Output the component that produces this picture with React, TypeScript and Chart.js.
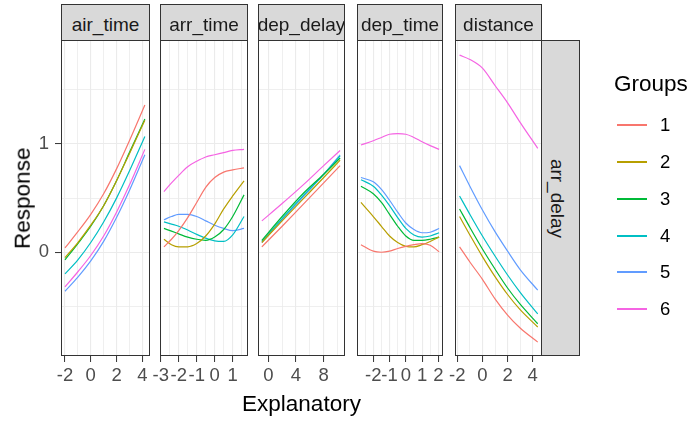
import { useEffect, useRef } from "react";
import { Chart, registerables } from "chart.js";

Chart.register(...registerables);

// ---------------------------------------------------------------- data ----

const groupLabels = ["1", "2", "3", "4", "5", "6"];
const groupColors = ["#F8766D", "#B79F00", "#00BA38", "#00BFC4", "#619CFF", "#F564E3"];

const explanatoryNames = ["air_time", "arr_time", "dep_delay", "dep_time", "distance"];
const responseName = "arr_delay";
const xTitle = "Explanatory";
const yTitle = "Response";
const legendTitle = "Groups";

// air_time
const airTimeX = [-2, -1, 0, 1, 2, 3, 4.2];
const airTimeY = [
  [0.04, 0.19, 0.35, 0.54, 0.77, 1.03, 1.36],
  [-0.05, 0.09, 0.25, 0.43, 0.66, 0.91, 1.22],
  [-0.07, 0.08, 0.24, 0.43, 0.66, 0.92, 1.23],
  [-0.2, -0.07, 0.09, 0.28, 0.5, 0.75, 1.07],
  [-0.36, -0.23, -0.08, 0.1, 0.32, 0.57, 0.9],
  [-0.32, -0.18, -0.03, 0.15, 0.37, 0.62, 0.95],
];
const airTimeTicks = [-2, -1, 0, 1, 2, 3, 4];
const airTimeLabels = [-2, 0, 2, 4];

// arr_time
const arrTimeX = [-2.82, -2.4, -2, -1.5, -1, -0.5, 0, 0.5, 1, 1.63];
const arrTimeY = [
  [0.05, 0.12, 0.2, 0.32, 0.46, 0.6, 0.69, 0.74, 0.76, 0.78],
  [0.12, 0.07, 0.05, 0.05, 0.08, 0.15, 0.26, 0.4, 0.52, 0.66],
  [0.22, 0.195, 0.17, 0.14, 0.12, 0.11, 0.14, 0.21, 0.33, 0.53],
  [0.28, 0.26, 0.24, 0.205, 0.165, 0.13, 0.105, 0.1, 0.16, 0.33],
  [0.3, 0.33, 0.35, 0.35, 0.33, 0.29, 0.25, 0.22, 0.2, 0.22],
  [0.56, 0.64, 0.71, 0.79, 0.84, 0.88, 0.9, 0.92, 0.94, 0.95],
];
const arrTimeTicks = [-3, -2.5, -2, -1.5, -1, -0.5, 0, 0.5, 1, 1.5];
const arrTimeLabels = [-3, -2, -1, 0, 1];

// dep_delay
const depDelayX = [-0.93, 2, 5, 8, 10.37];
const depDelayY = [
  [0.05, 0.24, 0.44, 0.64, 0.8],
  [0.09, 0.29, 0.49, 0.69, 0.85],
  [0.11, 0.33, 0.54, 0.72, 0.87],
  [0.1, 0.31, 0.52, 0.72, 0.89],
  [0.09, 0.3, 0.51, 0.72, 0.9],
  [0.29, 0.45, 0.62, 0.8, 0.94],
];
const depDelayTicks = [0, 2, 4, 6, 8, 10];
const depDelayLabels = [0, 4, 8];

// dep_time
const depTimeX = [-2.76, -2, -1.5, -1, -0.5, 0, 0.5, 1, 1.5, 2.05];
const depTimeY = [
  [0.07, 0.01, 0.0, 0.01, 0.035, 0.055, 0.07, 0.08, 0.065, 0.005],
  [0.46, 0.33, 0.24, 0.15, 0.09, 0.055, 0.05, 0.07, 0.1, 0.14],
  [0.61, 0.54, 0.46, 0.35, 0.24, 0.15, 0.11, 0.11, 0.12, 0.14],
  [0.67, 0.61, 0.53, 0.43, 0.32, 0.22, 0.16, 0.14, 0.15, 0.18],
  [0.69, 0.65, 0.58, 0.48, 0.37, 0.27, 0.21, 0.18, 0.185, 0.22],
  [0.99, 1.03, 1.06, 1.09, 1.095, 1.09, 1.06, 1.02, 0.985, 0.95],
];
const depTimeTicks = [-2.5, -2, -1.5, -1, -0.5, 0, 0.5, 1, 1.5, 2];
const depTimeLabels = [-2, -1, 0, 1, 2];

// distance
const distanceX = [-1.82, -1, 0, 1, 2, 3, 4.4];
const distanceY = [
  [0.05, -0.09, -0.25, -0.43, -0.58, -0.7, -0.83],
  [0.33, 0.16, -0.04, -0.225, -0.39, -0.53, -0.69],
  [0.4, 0.23, 0.03, -0.155, -0.33, -0.48, -0.66],
  [0.52, 0.35, 0.15, -0.035, -0.21, -0.37, -0.57],
  [0.8, 0.61, 0.39, 0.19, 0.01, -0.16, -0.35],
  [1.82, 1.78, 1.7, 1.54, 1.38, 1.2, 0.96],
];
const distanceTicks = [-2, -1, 0, 1, 2, 3, 4];
const distanceLabels = [-2, 0, 2, 4];

// shared response axis
const responseTicks = [-0.5, 0, 0.5, 1, 1.5];
const responseLabels = [0, 1];
const responseRange = [-0.958, 1.96];

// ------------------------------------------------------------- layout ----

const W = 692;
const H = 423;
const FONT = "'Liberation Sans', Arial, Helvetica, sans-serif";
const TICK_SIZE = 18.5;
const STRIP_SIZE = 19;
const TITLE_SIZE = 22.5;
const PANEL_TOP = 40;
const PANEL_BOTTOM = 356;
const STRIP_TOP = 4;
const GRID = "#EBEBEB";
const DARK = "#333333";
const TICK_TEXT = "#4D4D4D";

type PanelSpec = {
  name: string;
  x: number[];
  y: number[][];
  ticks: number[];
  labels: number[];
  range: [number, number];
  left: number;
  right: number;
};

const panels: PanelSpec[] = [
  { name: explanatoryNames[0], x: airTimeX, y: airTimeY, ticks: airTimeTicks, labels: airTimeLabels, range: [-2.31, 4.598], left: 61, right: 150 },
  { name: explanatoryNames[1], x: arrTimeX, y: arrTimeY, ticks: arrTimeTicks, labels: arrTimeLabels, range: [-3.039, 1.85], left: 160, right: 248 },
  { name: explanatoryNames[2], x: depDelayX, y: depDelayY, ticks: depDelayTicks, labels: depDelayLabels, range: [-1.487, 11.076], left: 258, right: 345 },
  { name: explanatoryNames[3], x: depTimeX, y: depTimeY, ticks: depTimeTicks, labels: depTimeLabels, range: [-3.003, 2.289], left: 357, right: 443 },
  { name: explanatoryNames[4], x: distanceX, y: distanceY, ticks: distanceTicks, labels: distanceLabels, range: [-2.183, 4.74], left: 455, right: 542 },
];

const ROW_STRIP_LEFT = 541;
const ROW_STRIP_RIGHT = 580;
const LEGEND_KEY_Y = [124, 161, 198, 235, 271, 308];

// Panel outline drawn on top of grid and curves.
const panelFrame = {
  id: "panelFrame",
  afterDraw(chart: any) {
    const { ctx, chartArea: a } = chart;
    ctx.save();
    ctx.strokeStyle = DARK;
    ctx.lineWidth = 1;
    ctx.strokeRect(a.left + 0.5, a.top + 0.5, a.right - a.left - 1, a.bottom - a.top - 1);
    ctx.restore();
  },
};

function FacetPanel({ spec, first }: { spec: PanelSpec; first: boolean }) {
  const ref = useRef<HTMLCanvasElement>(null);

  useEffect(() => {
    if (!ref.current) return;
    const xMajor = new Set(spec.labels);
    const yMajor = new Set(responseLabels);
    const chart = new Chart(ref.current, {
      type: "scatter",
      data: {
        datasets: groupLabels.map((g, i) => ({
          label: g,
          data: spec.x.map((x, j) => ({ x, y: spec.y[i][j] })),
          showLine: true,
          borderColor: groupColors[i],
          backgroundColor: groupColors[i],
          borderWidth: 1.2,
          pointRadius: 0,
          pointHoverRadius: 0,
          cubicInterpolationMode: "monotone" as const,
        })),
      },
      options: {
        animation: false,
        responsive: false,
        events: [],
        layout: {
          padding: { left: first ? 0 : spec.left, right: W - spec.right, top: PANEL_TOP, bottom: 0 },
        },
        plugins: { legend: { display: false }, tooltip: { enabled: false } },
        scales: {
          x: {
            type: "linear",
            min: spec.range[0],
            max: spec.range[1],
            afterBuildTicks: (s: any) => {
              s.ticks = spec.ticks.map((v) => ({ value: v }));
            },
            afterFit: (s: any) => {
              s.height = H - PANEL_BOTTOM;
            },
            border: { display: false },
            grid: {
              color: GRID,
              lineWidth: (c: any) => (c.tick && xMajor.has(c.tick.value) ? 1.1 : 0.8),
              tickColor: (c: any) => (c.tick && xMajor.has(c.tick.value) ? DARK : "rgba(0,0,0,0)"),
              tickWidth: 1,
              tickLength: 6,
            },
            ticks: {
              autoSkip: false,
              maxRotation: 0,
              minRotation: 0,
              padding: 3,
              color: TICK_TEXT,
              font: { family: FONT, size: TICK_SIZE },
              callback: (v: any) => (xMajor.has(v) ? String(v) : ""),
            },
          },
          y: {
            type: "linear",
            min: responseRange[0],
            max: responseRange[1],
            afterBuildTicks: (s: any) => {
              s.ticks = responseTicks.map((v) => ({ value: v }));
            },
            afterFit: (s: any) => {
              s.width = first ? spec.left : 0;
            },
            border: { display: false },
            grid: {
              color: GRID,
              lineWidth: (c: any) => (c.tick && yMajor.has(c.tick.value) ? 1.1 : 0.8),
              tickColor: (c: any) => (c.tick && yMajor.has(c.tick.value) ? DARK : "rgba(0,0,0,0)"),
              tickWidth: 1,
              tickLength: 6,
              drawTicks: first,
            },
            ticks: {
              display: first,
              padding: 6,
              color: TICK_TEXT,
              font: { family: FONT, size: TICK_SIZE },
              callback: (v: any) => (yMajor.has(v) ? String(v) : ""),
            },
          },
        },
      },
      plugins: [panelFrame],
    } as any);
    return () => chart.destroy();
  }, [spec, first]);

  return (
    <canvas
      ref={ref}
      width={W}
      height={H}
      style={{ position: "absolute", left: 0, top: 0, width: W, height: H }}
    />
  );
}

const stripBox: any = {
  position: "absolute",
  boxSizing: "border-box",
  border: `1px solid ${DARK}`,
  background: "#D9D9D9",
  overflow: "hidden",
};

export default function App() {
  return (
    <div
      style={{
        position: "fixed",
        left: 0,
        top: 0,
        width: W,
        height: H,
        background: "#ffffff",
        overflow: "hidden",
        fontFamily: FONT,
      }}
    >
      {panels.map((p, i) => (
        <FacetPanel key={p.name} spec={p} first={i === 0} />
      ))}

      {panels.map((p) => (
        <div
          key={"strip-" + p.name}
          style={{
            ...stripBox,
            left: p.left,
            top: STRIP_TOP,
            width: p.right - p.left,
            height: PANEL_TOP - STRIP_TOP + 1,
          }}
        >
          <div
            style={{
              position: "absolute",
              left: 0,
              right: 0,
              top: 10.2,
              display: "flex",
              justifyContent: "center",
              whiteSpace: "nowrap",
              fontSize: STRIP_SIZE,
              lineHeight: `${STRIP_SIZE}px`,
              color: "#1A1A1A",
            }}
          >
            {p.name}
          </div>
        </div>
      ))}

      <div
        style={{
          ...stripBox,
          left: ROW_STRIP_LEFT,
          top: PANEL_TOP,
          width: ROW_STRIP_RIGHT - ROW_STRIP_LEFT,
          height: PANEL_BOTTOM - PANEL_TOP,
        }}
      >
        <div
          style={{
            position: "absolute",
            left: 557 - ROW_STRIP_LEFT - 1 - 100,
            top: 198 - PANEL_TOP - 1 - STRIP_SIZE / 2,
            width: 200,
            height: STRIP_SIZE,
            lineHeight: `${STRIP_SIZE}px`,
            fontSize: STRIP_SIZE,
            textAlign: "center",
            whiteSpace: "nowrap",
            color: "#1A1A1A",
            transform: "rotate(90deg)",
          }}
        >
          {responseName}
        </div>
      </div>

      <div
        style={{
          position: "absolute",
          left: 301.5 - 100,
          top: 393,
          width: 200,
          textAlign: "center",
          fontSize: TITLE_SIZE,
          lineHeight: `${TITLE_SIZE}px`,
          color: "#000",
        }}
      >
        {xTitle}
      </div>

      <div
        style={{
          position: "absolute",
          left: 22.5 - 100,
          top: 198 - TITLE_SIZE / 2,
          width: 200,
          height: TITLE_SIZE,
          textAlign: "center",
          fontSize: TITLE_SIZE,
          lineHeight: `${TITLE_SIZE}px`,
          color: "#000",
          transform: "rotate(-90deg)",
        }}
      >
        {yTitle}
      </div>

      <div
        style={{
          position: "absolute",
          left: 614,
          top: 73.3,
          fontSize: TITLE_SIZE,
          lineHeight: `${TITLE_SIZE}px`,
          color: "#000",
          whiteSpace: "nowrap",
        }}
      >
        {legendTitle}
      </div>

      {groupLabels.map((g, i) => (
        <div key={"key-" + g}>
          <div
            style={{
              position: "absolute",
              left: 617,
              top: LEGEND_KEY_Y[i],
              width: 30,
              height: 2,
              background: groupColors[i],
            }}
          />
          <div
            style={{
              position: "absolute",
              left: 660,
              top: LEGEND_KEY_Y[i] + 1 - 0.4885 * TICK_SIZE,
              fontSize: TICK_SIZE,
              lineHeight: `${TICK_SIZE}px`,
              color: "#000",
            }}
          >
            {g}
          </div>
        </div>
      ))}
    </div>
  );
}
